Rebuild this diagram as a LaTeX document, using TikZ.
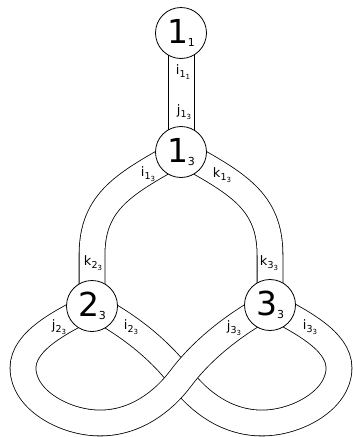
\documentclass[tikz,border=0pt]{standalone}
\usepackage{fontspec}
\setmainfont{DejaVu Sans}
\pgfdeclarelayer{bg}
\pgfsetlayers{bg,main}
\newcommand{\myLab}[3]{#1\raisebox{-2.5pt}{\fontsize{9.5}{9.5}\selectfont #2\raisebox{-2pt}{\fontsize{7}{7}\selectfont #3}}}
\newcommand{\myVtx}[2]{\fontsize{33}{33}\selectfont #1\raisebox{-3pt}{\fontsize{11}{11}\selectfont #2}}
\begin{document}
\begin{tikzpicture}[x=1pt,y=-1pt,
  ribbon/.style={draw=black, line width=0.8pt, double=white, double distance=25pt},
  edge/.style={draw=black, line width=0.8pt},
  vtx/.style={circle, draw=black, line width=0.8pt, fill=white, minimum size=51pt, inner sep=0pt},
  lbl/.style={inner sep=0pt, font=\fontsize{13}{13}\selectfont}]
\useasboundingbox (0,0) rectangle (353,437);
\node[vtx] (n11) at (181,33) {\myVtx{1}{1}};
\node[vtx] (n13) at (181,152) {\myVtx{1}{3}};
\node[vtx] (n23) at (92,306) {\myVtx{2}{3}};
\node[vtx] (n33) at (270,305) {\myVtx{3}{3}};
\begin{pgfonlayer}{bg}
\draw[edge] ([xshift=-13pt]n11.center) -- ([xshift=-13pt]n13.center);
\draw[edge] ([xshift=13pt]n11.center) -- ([xshift=13pt]n13.center);
\draw[ribbon] (n13.center) .. controls (126,183) and (92,200) .. (92,255) -- (n23.center);
\draw[ribbon] (n13.center) .. controls (236,183) and (270,200) .. (270,255) -- (n33.center);
\draw[ribbon] (n33.center) .. controls (299,321) and (339,340) .. (339,368)
  .. controls (339,400) and (297,423) .. (262,423)
  .. controls (227,423) and (199,402) .. (181,378)
  .. controls (157,346) and (122,321) .. (n23.center);
\draw[ribbon] (n23.center) .. controls (63,321) and (23,340) .. (23,368)
  .. controls (23,400) and (65,423) .. (100,423)
  .. controls (135,423) and (163,402) .. (181,378)
  .. controls (205,346) and (240,321) .. (n33.center);
\end{pgfonlayer}
\node[lbl] (l1) at (183,72) {\myLab{i}{1}{1}};
\node[lbl] (l2) at (184,112) {\myLab{j}{1}{3}};
\node[lbl] (l3) at (148,174) {\myLab{i}{1}{3}};
\node[lbl] (l4) at (222,175) {\myLab{k}{1}{3}};
\node[lbl] (l5) at (93,263) {\myLab{k}{2}{3}};
\node[lbl] (l6) at (269,263) {\myLab{k}{3}{3}};
\node[lbl] (l7) at (59,327) {\myLab{j}{2}{3}};
\node[lbl] (l8) at (131,327) {\myLab{i}{2}{3}};
\node[lbl] (l9) at (234,328) {\myLab{j}{3}{3}};
\node[lbl] (l10) at (310,327) {\myLab{i}{3}{3}};
\end{tikzpicture}
\end{document}
